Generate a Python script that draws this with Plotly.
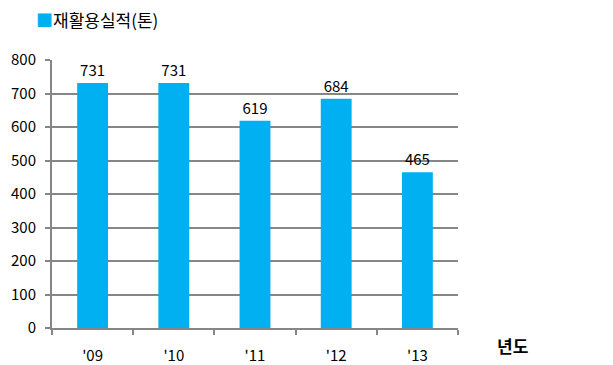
import plotly.graph_objects as go

years = ["'09", "'10", "'11", "'12", "'13"]
values = [731, 731, 619, 684, 465]
series_name = "재활용실적(톤)"

font = "Noto Sans CJK KR"
fig = go.Figure()
fig.add_trace(go.Bar(
    x=years, y=values, name=series_name,
    marker=dict(color="#00B0F0", line=dict(width=0)),
    width=0.38,
    text=[str(v) for v in values], textposition="outside",
    textfont=dict(family=font, size=15, color="#000000"),
    cliponaxis=False,
))
fig.update_layout(
    width=613, height=365,
    margin=dict(l=52, r=155, t=60, b=37, autoexpand=False),
    paper_bgcolor="white", plot_bgcolor="white",
    showlegend=False,
    font=dict(family=font, size=15, color="#000"),
    xaxis=dict(showline=True, linecolor="#868686", linewidth=2,
               ticks="outside", ticklen=5, tickcolor="#868686", tickwidth=2,
               tickson="boundaries", showgrid=False, ticklabelstandoff=13,
               tickfont=dict(family=font, size=15, color="#000")),
    yaxis=dict(range=[0, 800], dtick=100, showline=True, linecolor="#868686", linewidth=2,
               ticks="outside", ticklen=5, tickcolor="#868686", tickwidth=2,
               showgrid=True, gridcolor="#868686", gridwidth=2,
               zeroline=False, ticklabelstandoff=6,
               tickfont=dict(family=font, size=15, color="#000")),
    annotations=[
        dict(text="<b>년도</b>", xref="paper", yref="paper", x=1.135, y=-0.065,
             xanchor="center", yanchor="middle", showarrow=False,
             font=dict(family=font, size=17, color="#000")),
        dict(text="<span style='color:#00B0F0'>■</span>" + series_name,
             xref="paper", yref="paper", x=-0.045, y=1.15,
             xanchor="left", yanchor="middle", showarrow=False,
             font=dict(family=font, size=17, color="#000")),
    ],
)
fig.write_html("out.html")
